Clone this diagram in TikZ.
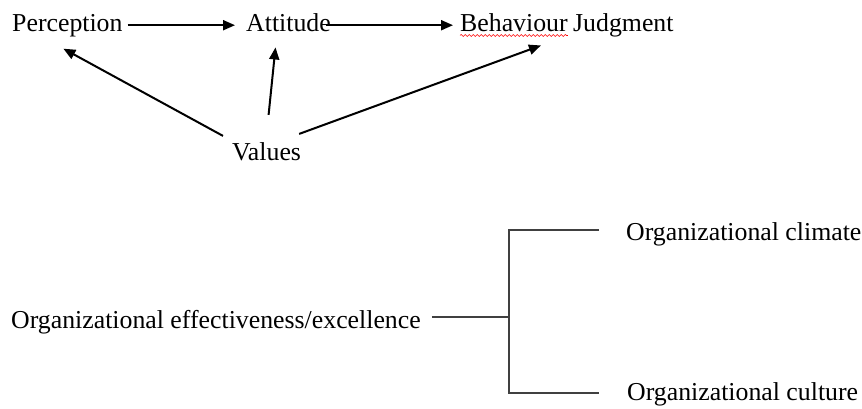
\documentclass[tikz,border=0pt]{standalone}
\usepackage{fontspec}
\setmainfont{Liberation Serif}
\usepackage{tikz}
\usetikzlibrary{positioning,arrows.meta,decorations.pathmorphing}
\tikzset{}

\begin{document}
\begin{tikzpicture}[x=1pt,y=-1pt]
            \tikzset{
                vb node/.style={anchor=base west,inner sep=0,font=\fontsize{25.8}{30}\selectfont},
                vb arrow/.style={draw,line width=2pt,-{Triangle[length=12pt,width=10pt]}},
                vb bracket/.style={draw,line width=1.8pt,black!75}
            }
            \useasboundingbox (0,0) rectangle (862,408);
            \node[vb node] (perception) at (12, 31) {Perception};
            \node[vb node] (attitude) at (246, 31) {Attitude};
            \node[vb node] (behaviour) at (460, 31) {Behaviour};
            \node[vb node] (judgment) at (573, 31) {Judgment};
            \node[vb node] (values) at (232, 160) {Values};
            \node[vb node] (effect) at (11, 328) {Organizational effectiveness/excellence};
            \node[vb node] (climate) at (626, 240) {Organizational climate};
            \node[vb node] (culture) at (627, 400) {Organizational culture};
            \coordinate (fork) at (509, 317);
            % spell check underline
            \draw[red,line width=0.6pt,decorate,decoration={snake,amplitude=1pt,segment length=4pt}]
                ([yshift=-4pt]behaviour.south west) -- ([yshift=-4pt]behaviour.south east);
            \path
                (perception.east) edge[vb arrow,shorten <=5pt,shorten >=11pt] (perception.east -| attitude.west)
                ([xshift=-5pt]attitude.east |- perception.east) edge[vb arrow,shorten >=7pt] (perception.east -| behaviour.west)
                ([xshift=-9pt,yshift=6pt]values.north west) edge[vb arrow] ([xshift=-4pt,yshift=-12pt]perception.south)
                ([xshift=2pt,yshift=27pt]values.north) edge[vb arrow] ([xshift=-13pt,yshift=-16pt]attitude.south)
                ([xshift=-2pt,yshift=8pt]values.north east) edge[vb arrow] ([xshift=27pt,yshift=-14pt]behaviour.south)
                ;
            \path[vb bracket]
                (effect.east |- fork) edge[shorten <=11pt] (fork)
                ([xshift=-27pt]climate.west |- 0,230) -| (fork) |- ([xshift=-28pt]culture.west |- 0,393)
                ;
        \end{tikzpicture}
\end{document}
